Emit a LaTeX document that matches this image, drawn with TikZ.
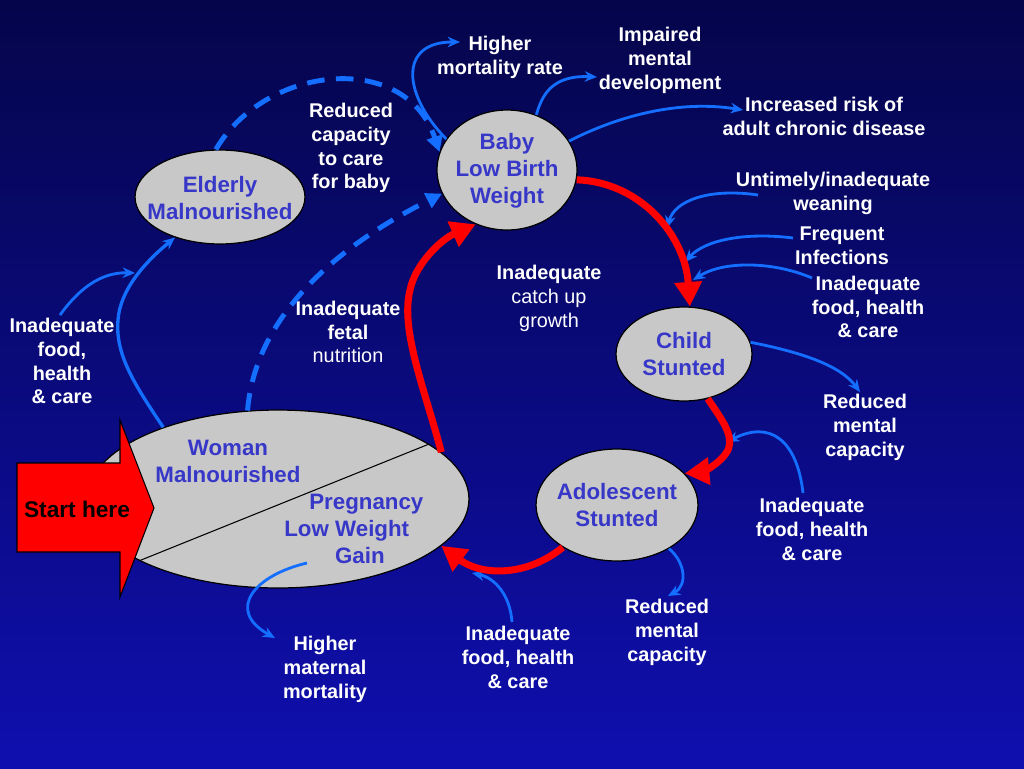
\documentclass[tikz,border=0pt]{standalone}
\usepackage{fontspec}
\setmainfont{Liberation Sans}
\usetikzlibrary{shapes.geometric,arrows.meta}
\definecolor{bgtop}{RGB}{5,5,75}
\definecolor{bgbot}{RGB}{15,15,175}
\definecolor{ovalfill}{RGB}{200,200,200}
\definecolor{ntext}{RGB}{55,55,200}
\definecolor{barrow}{RGB}{20,110,255}
\tikzset{
  oval/.style={ellipse, draw=black, line width=0.7pt, fill=ovalfill, inner sep=0pt},
  ntxt/.style={text=ntext, font=\fontsize{12.7}{15.3}\selectfont\bfseries, align=center, inner sep=0pt},
  lbl/.style={text=white, font=\fontsize{11.3}{13.6}\selectfont\bfseries, align=center, inner sep=0pt},
  lblr/.style={text=white, font=\fontsize{11.3}{13.6}\selectfont, align=center, inner sep=0pt},
  thinarrow/.style={draw=barrow, line width=1.6pt, -{Stealth[length=7pt,width=6pt]}},
  dasharrow/.style={draw=barrow, line width=2.8pt, dash pattern=on 10pt off 6.5pt, -{Triangle[length=9pt,width=9pt]}},
  redarrow/.style={draw=red, line width=4pt, -{Triangle[length=14pt,width=15pt]}},
}
\begin{document}
\begin{tikzpicture}[x=0.02cm,y=-0.02cm]
% background
\shade[top color=bgtop, bottom color=bgbot] (0,0) rectangle (1024,768);
\useasboundingbox (0,0) rectangle (1024,768);

% ovals
\node[oval, minimum width=2.8cm, minimum height=2.4cm] (baby) at (507,170) {};
\node[oval, minimum width=3.4cm, minimum height=1.88cm] (elderly) at (220,197) {};
\node[oval, minimum width=2.72cm, minimum height=1.88cm] (child) at (684,354) {};
\node[oval, minimum width=3.24cm, minimum height=2.24cm] (adol) at (617,505) {};
\node[oval, minimum width=7.64cm, minimum height=3.56cm] (woman) at (278,499) {};
\draw[black, line width=0.6pt] (woman.204) -- (woman.20);

% node texts
\node[ntxt] (babyt) at (507,171) {Baby\\Low Birth\\Weight};
\node[ntxt] (eldt) at (220,198) {Elderly\\Malnourished};
\node[ntxt] (childt) at (684,354) {Child\\Stunted};
\node[ntxt] (adolt) at (617,505) {Adolescent\\Stunted};
\node[ntxt] (womant) at (228,461) {Woman\\Malnourished};
\node[ntxt, align=left, anchor=west] (pregt) at (284,529) {\hspace*{14.2pt}Pregnancy\\Low Weight\\\hspace*{28.9pt}Gain};

% labels
\node[lbl] (hmr) at (500,57) {Higher\\mortality rate};
\node[lbl] (imp) at (660,60) {Impaired\\mental\\development};
\node[lbl] (inc) at (824,116) {Increased risk of\\adult chronic disease};
\node[lbl] (unt) at (833,193) {Untimely/inadequate\\weaning};
\node[lbl] (freq) at (842,246) {Frequent\\Infections};
\node[lbl] (inR) at (868,307) {Inadequate\\food, health\\\& care};
\node[lbl] (redR) at (865,427) {Reduced\\mental\\capacity};
\node[lbl] (inRB) at (812,529) {Inadequate\\food, health\\\& care};
\node[lbl] (redB) at (667,632) {Reduced\\mental\\capacity};
\node[lbl] (inB) at (518,657) {Inadequate\\food, health\\\& care};
\node[lbl] (hmm) at (325,669) {Higher\\maternal\\mortality};
\node[lbl] (inL) at (62,361) {Inadequate\\food,\\health\\\& care};
\node[lbl] (rc) at (351,148) {Reduced\\capacity\\to care\\for baby};
\node[lblr] (ifn) at (348,332) {\bfseries Inadequate\\\bfseries fetal\\nutrition};
\node[lblr] (icg) at (549,298) {\bfseries Inadequate\\catch up\\growth};

% free ends
\coordinate (hmrIn) at (460,42);
\coordinate (impIn) at (597,77);
\coordinate (incIn) at (743,110);
\coordinate (untOut) at (758,195);
\coordinate (untIn) at (667,228);
\coordinate (freqOut) at (793,238);
\coordinate (freqIn) at (685,262);
\coordinate (inROut) at (812,278);
\coordinate (inRIn) at (693,280);
\coordinate (redRIn) at (860,392);
\coordinate (inRBOut) at (803,493);
\coordinate (inRBIn) at (727,442);
\coordinate (redBIn) at (668,596);
\coordinate (inBOut) at (512,622);
\coordinate (inBIn) at (472,573);
\coordinate (wmOut) at (307,563);
\coordinate (hmmIn) at (275,638);
\coordinate (inLOut) at (60,315);
\coordinate (inLIn) at (135,273);

% dashed arrows
\draw[dasharrow] (elderly.95) .. controls (265,65) and (405,50) .. (baby.165);
\draw[dasharrow] (woman.109) .. controls (255,320) and (330,250) .. (baby.200);

% blue arrows
\draw[thinarrow] (baby.153) .. controls (403,95) and (398,42) .. (hmrIn);
\draw[thinarrow] (baby.62) .. controls (542,95) and (552,75) .. (impIn);
\draw[thinarrow] (baby.25) .. controls (620,115) and (680,100) .. (incIn);
\draw[thinarrow] (untOut) .. controls (710,188) and (675,200) .. (untIn);
\draw[thinarrow] (freqOut) .. controls (745,232) and (705,240) .. (freqIn);
\draw[thinarrow] (inROut) .. controls (775,262) and (725,260) .. (inRIn);
\draw[thinarrow] (child.10) .. controls (800,352) and (840,365) .. (redRIn);
\draw[thinarrow] (inRBOut) .. controls (797,440) and (770,420) .. (inRBIn);
\draw[thinarrow] (adol.-40) .. controls (685,562) and (688,585) .. (redBIn);
\draw[thinarrow] (inBOut) .. controls (510,595) and (495,578) .. (inBIn);
\draw[thinarrow] (wmOut) .. controls (255,575) and (225,610) .. (hmmIn);
\draw[thinarrow, line width=1.9pt] (woman.148) .. controls (135,385) and (115,355) .. (118,320) .. controls (120,290) and (145,262) .. (elderly.222);
\draw[thinarrow] (inLOut) .. controls (78,290) and (100,272) .. (inLIn);

% red arrows
\draw[redarrow] (woman.16) .. controls (425,390) and (400,330) .. (410,290) .. controls (415,265) and (440,240) .. (baby.240);
\draw[redarrow] (baby.-8) .. controls (640,182) and (685,235) .. (child.83);
\draw[redarrow] (child.-62) .. controls (722,420) and (734,435) .. (728,450) .. controls (720,465) and (700,472) .. (adol.25);
\draw[redarrow] (adol.218) .. controls (525,578) and (480,575) .. (woman.-16);

% start arrow
\filldraw[fill=red, draw=black, line width=0.6pt] (17,463) -- (120,463) -- (120,420) -- (154,508) -- (120,597) -- (120,552) -- (17,552) -- cycle;
\node[text=black, font=\fontsize{12.9}{15}\selectfont\bfseries, inner sep=0pt] (start) at (77,509) {Start here};
\end{tikzpicture}
\end{document}
